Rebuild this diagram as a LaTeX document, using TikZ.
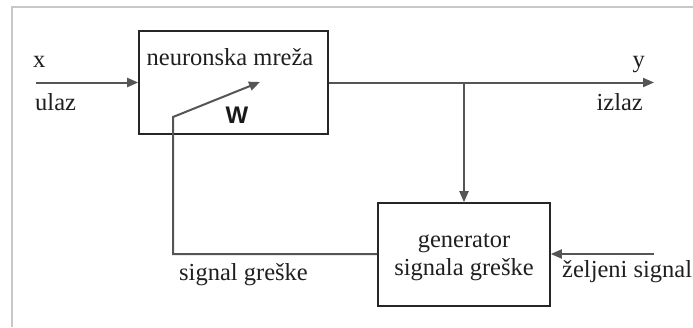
\documentclass[tikz,border=0pt]{standalone}
\usepackage{fontspec}
\setmainfont{Liberation Serif}
\newfontfamily\wfont{Liberation Sans}
\usetikzlibrary{arrows.meta}
\definecolor{lin}{HTML}{555555}
\definecolor{frm}{HTML}{C8C8C8}
\begin{document}
\begin{tikzpicture}[x=1pt,y=-1pt,
  blk/.style={draw=black!85,line width=1.6pt,minimum width=#1,minimum height=103pt,inner sep=0pt},
  conn/.style={draw=lin,line width=2pt},
  arr/.style={conn,-{Triangle[length=11pt,width=9pt]}},
  lbl/.style={font=\fontsize{24.5}{27}\selectfont,text=black!88,inner sep=0pt},
  ]
\useasboundingbox (0,0) rectangle (693,327);
\draw[frm,line width=1.2pt] (693,7) -- (12,7) -- (12,327);
% blocks
\node[blk=189pt] (nn) at (233.5,82.5) {};
\node[blk=172pt] (gen) at (464,254.5) {};
% texts
\node[lbl,anchor=base] (tnn) at (230,65) {neuronska mreža};
\node[inner sep=0pt,anchor=base,text=black!90,font=\wfont\bfseries\fontsize{24}{26}\selectfont] (w) at (237,123) {W};
\node[lbl,anchor=base] (tg1) at (464,247) {generator};
\node[lbl,anchor=base] (tg2) at (464,275) {signala greške};
\node[lbl,anchor=base west] (tx) at (33,67) {x};
\node[lbl,anchor=base west] (tu) at (35,110) {ulaz};
\node[lbl,anchor=base east] (ty) at (645,67) {y};
\node[lbl,anchor=base east] (ti) at (643,110) {izlaz};
\node[lbl,anchor=base west] (tz) at (562,277) {željeni signal};
\node[lbl,anchor=base west] (ts) at (179,280) {signal greške};
% coordinates
\coordinate (xin) at (36,82.5);
\coordinate (yout) at (654,82.5);
\coordinate (j) at (464,82.5);
\coordinate (zs) at (654,254);
\coordinate (fb1) at (173,254);
\coordinate (fb2) at (173,117);
\coordinate (wt) at (260,82);
% connectors
\draw[arr] (xin) -- (nn.west);
\draw[arr] (nn.east) -- (yout);
\draw[arr] (j) -- (gen.north);
\draw[arr] (zs) -- (gen.east |- zs);
\draw[arr] (gen.west |- fb1) -- (fb1) -- (fb2) -- (wt);
\end{tikzpicture}
\end{document}
